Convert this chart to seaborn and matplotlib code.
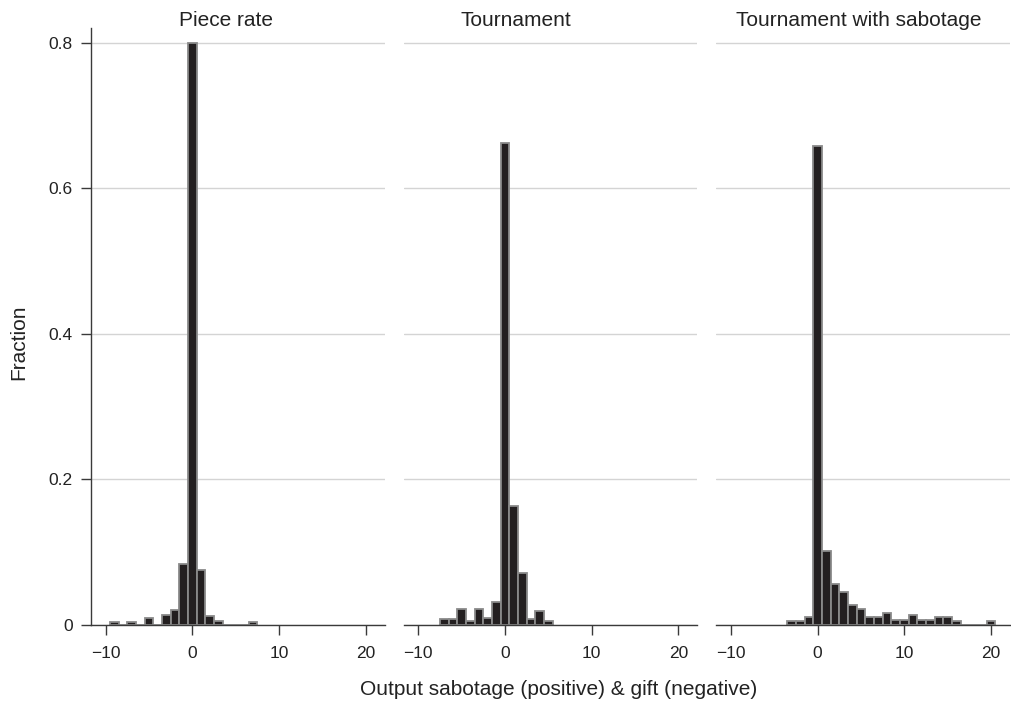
import matplotlib
matplotlib.use("Agg")
import matplotlib.pyplot as plt
import seaborn as sns

# panel titles
panels = ["Piece rate", "Tournament", "Tournament with sabotage"]

# output sabotage (+) / gift (-) values and fraction of observations
piece_vals = [-9, -7, -5, -3, -2, -1, 0, 1, 2, 3, 7]
piece_frac = [0.004, 0.004, 0.009, 0.014, 0.020, 0.084, 0.800, 0.075, 0.012, 0.006, 0.004]

tourn_vals = [-7, -6, -5, -4, -3, -2, -1, 0, 1, 2, 3, 4, 5]
tourn_frac = [0.008, 0.008, 0.022, 0.005, 0.022, 0.010, 0.031, 0.662, 0.163, 0.072,
              0.008, 0.019, 0.005]

sabo_vals = [-3, -2, -1, 0, 1, 2, 3, 4, 5, 6, 7, 8, 9, 10, 11, 12, 13, 14, 15, 16, 20]
sabo_frac = [0.005, 0.005, 0.011, 0.658, 0.102, 0.056, 0.045, 0.028, 0.022, 0.011,
             0.011, 0.017, 0.007, 0.007, 0.014, 0.007, 0.007, 0.011, 0.011, 0.005, 0.005]

xticks = [-10, 0, 10, 20]
xtick_labels = ["\u221210", "0", "10", "20"]
yticks = [0, 0.2, 0.4, 0.6, 0.8]
ytick_labels = ["0", "0.2", "0.4", "0.6", "0.8"]

data = [(piece_vals, piece_frac), (tourn_vals, tourn_frac), (sabo_vals, sabo_frac)]
title_x = [0.459, 0.381, 0.486]

sns.set_theme(style="white")
plt.rcParams["font.family"] = ["Liberation Sans", "DejaVu Sans"]

fig, axes = plt.subplots(1, 3, figsize=(10.11, 7.06), dpi=100, sharey=True)
fig.subplots_adjust(left=0.090, right=0.999, bottom=0.1147, top=0.9598, wspace=0.0646)

spine_col = "#3a3a3a"
text_col = "#222222"

for i, ax in enumerate(axes):
    vals, frac = data[i]
    sns.histplot(x=vals, weights=frac, discrete=True, ax=ax, color="#231f20",
                 edgecolor="#8a8a8a", linewidth=1.3, alpha=1)
    ax.set_xlim(-11.7, 22.2)
    ax.set_ylim(0, 0.82)
    ax.set_xticks(xticks)
    ax.set_xticklabels(xtick_labels)
    ax.set_yticks(yticks)
    ax.set_yticklabels(ytick_labels)
    ax.grid(axis="y", color="#d4d4d4", linewidth=1)
    ax.grid(axis="x", visible=False)
    ax.set_axisbelow(True)
    ax.set_xlabel("")
    ax.set_ylabel("")
    for s in ["top", "right"]:
        ax.spines[s].set_visible(False)
    ax.spines["bottom"].set_color(spine_col)
    ax.spines["bottom"].set_linewidth(1)
    ax.tick_params(axis="x", bottom=True, direction="out", length=7.2, width=1,
                   color=spine_col, pad=8, labelsize=12.5, labelcolor=text_col)
    if i == 0:
        ax.spines["left"].set_color(spine_col)
        ax.spines["left"].set_linewidth(1)
        ax.tick_params(axis="y", left=True, direction="out", length=7.2, width=1,
                       color=spine_col, pad=6, labelsize=12.5, labelcolor=text_col)
    else:
        ax.spines["left"].set_visible(False)
        ax.tick_params(axis="y", left=False, labelleft=False)
    ax.set_title(panels[i], x=title_x[i], pad=2, fontsize=15, color=text_col)

fig.text(0.553, 0.016, "Output sabotage (positive) & gift (negative)", ha="center",
         va="baseline", fontsize=15, color=text_col)
fig.text(0.019, 0.5156, "Fraction", ha="center", va="center", rotation=90,
         fontsize=15, color=text_col)

fig.savefig("out.png", dpi=100)
